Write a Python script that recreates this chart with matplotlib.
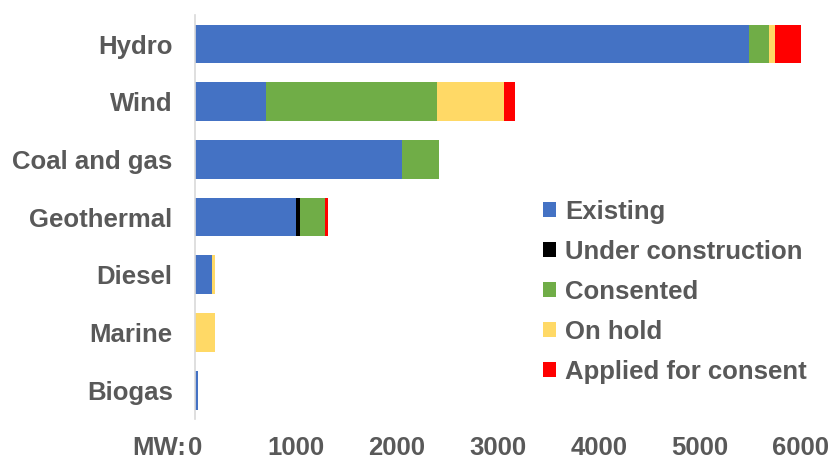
"""Generation capacity pipeline by fuel type, horizontal stacked bars."""

import numpy as np
import matplotlib
matplotlib.use("Agg")
import matplotlib.pyplot as plt
from matplotlib.patches import Patch

categories = ["Hydro", "Wind", "Coal and gas", "Geothermal", "Diesel", "Marine", "Biogas"]
series_names = ["Existing", "Under construction", "Consented", "On hold", "Applied for consent"]
existing = [5490, 700, 2050, 996, 168, 0, 30]
under_construction = [0, 0, 0, 40, 0, 0, 0]
consented = [198, 1696, 364, 249, 0, 0, 0]
on_hold = [58, 668, 0, 0, 27, 197, 0]
applied = [252, 102, 0, 34, 0, 0, 0]
x_ticks = [0, 1000, 2000, 3000, 4000, 5000, 6000]

colors = ["#4472C4", "#000000", "#70AD47", "#FFD966", "#FF0000"]
text_color = "#595959"
font_size = 18.5

plt.rcParams["font.family"] = ["Liberation Sans", "DejaVu Sans"]
plt.rcParams["font.weight"] = "bold"

fig = plt.figure(figsize=(8.33, 4.61), dpi=100)
ax = fig.add_axes([0.234, 0.091, 0.7275, 0.876])

y = np.arange(len(categories))
left = np.zeros(len(categories))
for name, values, color in zip(series_names,
                               [existing, under_construction, consented, on_hold, applied],
                               colors):
    ax.barh(y, values, left=left, height=0.67, color=color, label=name)
    left += np.array(values)

ax.set_xlim(0, 6000)
ax.set_ylim(len(categories) - 0.5, -0.5)
ax.set_yticks(y)
ax.set_yticklabels(categories)
ax.set_xticks(x_ticks)
ax.set_xticklabels([str(t) for t in x_ticks])
ax.tick_params(axis="both", length=0, labelsize=font_size, labelcolor=text_color)
ax.tick_params(axis="y", pad=16)
ax.tick_params(axis="x", pad=12)
for side in ("top", "right", "bottom"):
    ax.spines[side].set_visible(False)
ax.spines["left"].set_color("#d9d9d9")
ax.spines["left"].set_linewidth(1.2)

# "MW:" sits just left of the 0 tick label
ax.annotate("MW:", xy=(0, 0), xycoords="axes fraction", xytext=(-6, -12),
            textcoords="offset points", ha="right", va="top",
            fontsize=font_size, color=text_color, fontweight="bold")

handles = [Patch(facecolor=c, edgecolor="none") for c in colors]
ax.legend(handles, series_names, loc="upper left", bbox_to_anchor=(543 / 833, 1 - 200 / 461),
          bbox_transform=fig.transFigure, frameon=False, fontsize=font_size,
          labelcolor=text_color, handlelength=0.52, handleheight=0.52,
          handletextpad=0.35, labelspacing=0.62, borderpad=0, borderaxespad=0)

fig.savefig("out.png", dpi=100)
